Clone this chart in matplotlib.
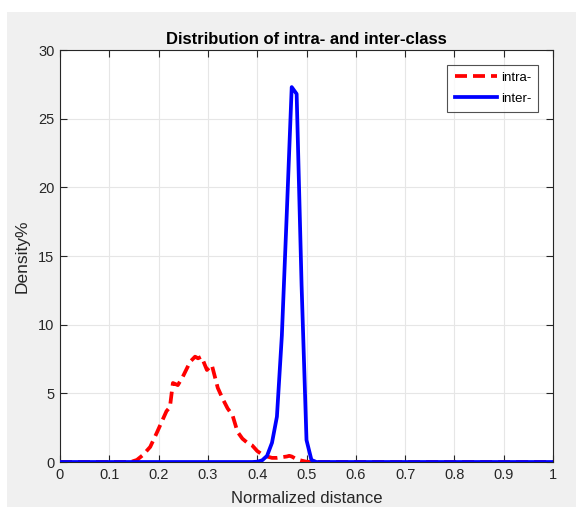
import matplotlib
matplotlib.use("Agg")
import matplotlib.pyplot as plt
from matplotlib.patches import Rectangle
import numpy as np

plt.rcParams['font.family'] = ['Liberation Sans', 'DejaVu Sans']

# intra-class distance distribution (red dashed)
intra_x = [0.0, 0.10, 0.13, 0.145, 0.156, 0.168, 0.183, 0.196, 0.206, 0.216, 0.223,
           0.229, 0.239, 0.249, 0.264, 0.274, 0.280, 0.287, 0.298, 0.308, 0.32,
           0.33, 0.34, 0.35, 0.36, 0.37, 0.38, 0.39, 0.40, 0.41, 0.42, 0.43, 0.44,
           0.45, 0.46, 0.465, 0.47, 0.48, 0.49, 0.50, 0.51, 1.0]
intra_y = [0.0, 0.0, 0.0, 0.02, 0.15, 0.5, 1.1, 2.1, 2.9, 3.7, 4.0,
           5.75, 5.6, 6.2, 7.3, 7.67, 7.55, 7.67, 6.7, 7.06, 5.4,
           4.6, 3.9, 3.4, 2.2, 1.7, 1.4, 1.2, 0.8, 0.55, 0.4, 0.3, 0.3,
           0.35, 0.4, 0.45, 0.4, 0.2, 0.1, 0.02, 0.0, 0.0]

# inter-class distance distribution (blue solid)
inter_x = [0.0, 0.39, 0.40, 0.41, 0.42, 0.43, 0.44, 0.45, 0.46, 0.47, 0.48,
           0.49, 0.50, 0.51, 0.52, 1.0]
inter_y = [0.0, 0.0, 0.02, 0.12, 0.45, 1.4, 3.3, 9.2, 18.1, 27.3, 26.8,
           12.9, 1.6, 0.15, 0.0, 0.0]

title = "Distribution of intra- and inter-class"
xlabel = "Normalized distance"
ylabel = "Density%"
xticks = np.round(np.arange(0, 1.01, 0.1), 1)
xtick_labels = ["0", "0.1", "0.2", "0.3", "0.4", "0.5", "0.6", "0.7", "0.8", "0.9", "1"]
yticks = [0, 5, 10, 15, 20, 25, 30]

W, H = 576, 507
fig = plt.figure(figsize=(W / 100, H / 100), dpi=100, facecolor='white')
fig.patches.append(Rectangle((7 / W, 0), 1 - 7 / W, 1 - 12 / H, transform=fig.transFigure,
                             facecolor='#f0f0f0', edgecolor='none', zorder=-10))

ax = fig.add_axes([60 / W, 1 - 462 / H, (553 - 60) / W, (462 - 50) / H])
ax.set_facecolor('white')

ax.plot(intra_x, intra_y, color='#ff0000', linestyle=(0, (3.2, 1.6)), linewidth=2.7,
        label='intra-', zorder=3)
ax.plot(inter_x, inter_y, color='#0000ff', linestyle='-', linewidth=2.7,
        label='inter-', zorder=4)

ax.set_xlim(0, 1)
ax.set_ylim(0, 30)
ax.set_xticks(xticks)
ax.set_xticklabels(xtick_labels)
ax.set_yticks(yticks)

ax.grid(True, color='#e6e6e6', linewidth=0.8)
ax.set_axisbelow(True)

ax.tick_params(direction='in', length=5, width=0.8, color='#262626', labelcolor='#262626',
               labelsize=10.5, top=True, right=True, pad=4)
for s in ax.spines.values():
    s.set_color('#262626')
    s.set_linewidth(0.8)

ax.set_title(title, fontsize=12, fontweight='bold', color='black', pad=4)
ax.set_xlabel(xlabel, fontsize=12, color='#262626', labelpad=7)
ax.set_ylabel(ylabel, fontsize=12.5, color='#262626', labelpad=6)

leg = ax.legend(loc='upper right', fontsize=9.5, frameon=True, fancybox=False,
                edgecolor='#262626', handlelength=3.2, handletextpad=0.3,
                borderpad=0.55, labelspacing=0.65, borderaxespad=1.1)
leg.get_frame().set_linewidth(0.8)

fig.savefig('out.png', dpi=100, facecolor=fig.get_facecolor())
